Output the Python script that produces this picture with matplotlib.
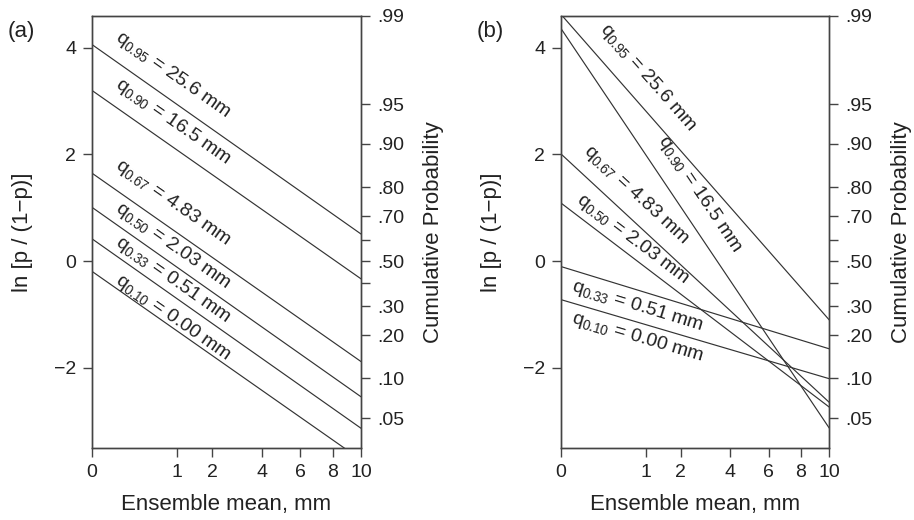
import numpy as np
import matplotlib
matplotlib.use("Agg")
import matplotlib.pyplot as plt

# -----------------------------------------------------------------------------
# Extended logistic regression: logit of cumulative probability for several
# precipitation quantiles, as a function of sqrt(ensemble mean).
# Each line is given by its logit value at 0 mm and at 10 mm.
# -----------------------------------------------------------------------------
QUANTILES = ["0.95", "0.90", "0.67", "0.50", "0.33", "0.10"]
AMOUNTS_MM = ["25.6", "16.5", "4.83", "2.03", "0.51", "0.00"]

X_ENDS = [0.0, 10.0]

# panel (a)
LOGIT_A_0 = [4.06, 3.20, 1.65, 1.01, 0.42, -0.19]
LOGIT_A_10 = [0.51, -0.33, -1.88, -2.54, -3.13, -3.72]

# panel (b)
LOGIT_B_0 = [4.625, 4.36, 2.01, 1.09, -0.10, -0.72]
LOGIT_B_10 = [-1.095, -3.12, -2.64, -2.73, -1.64, -2.20]

X_TICKS = [0, 1, 2, 4, 6, 8, 10]
Y_TICKS = [-2, 0, 2, 4]
PROB_TICKS = [0.05, 0.10, 0.20, 0.30, 0.40, 0.50, 0.60, 0.70, 0.80, 0.90, 0.95, 0.99]
PROB_LABELS = [".05", ".10", ".20", ".30", "", ".50", "", ".70", ".80", ".90", ".95", ".99"]

# label anchor points (ensemble mean in mm, logit)
LABEL_POS_A = [(0.07, 4.16), (0.07, 3.29), (0.07, 1.76), (0.07, 0.95), (0.07, 0.33), (0.07, -0.39)]
LABEL_POS_B = [(0.21, 4.36), (1.32, 2.27), (0.066, 2.05), (0.029, 1.125), (0.0145, -0.547), (0.0142, -1.144)]

# -----------------------------------------------------------------------------
plt.rcParams["font.family"] = ["Liberation Sans", "DejaVu Sans"]
plt.rcParams["mathtext.fontset"] = "custom"
plt.rcParams["mathtext.rm"] = "Liberation Sans"
plt.rcParams["mathtext.it"] = "Liberation Sans:italic"

TEXT = "#222222"
LINE = "#333333"
SPINE = "#444444"
YLIM = (-3.5, np.log(0.99 / 0.01))


def logit(p):
    return np.log(p / (1.0 - p))


def style_axis(ax):
    ax.set_xscale("function", functions=(np.sqrt, np.square))
    ax.set_xlim(0, 10)
    ax.set_ylim(*YLIM)
    ax.set_xticks(X_TICKS)
    ax.set_xticklabels([str(t) for t in X_TICKS])
    ax.set_yticks(Y_TICKS)
    ax.set_yticklabels(["\u22122", "0", "2", "4"])
    ax.tick_params(direction="out", length=6.5, width=1.0, color=SPINE,
                   labelsize=14, labelcolor=TEXT, pad=5)
    ax.minorticks_off()
    for s in ax.spines.values():
        s.set_color(SPINE)
        s.set_linewidth(1.0)
    ax.set_xlabel("Ensemble mean, mm", fontsize=16, color=TEXT)
    ax.set_ylabel("ln [p / (1\u2212p)]", fontsize=16, color=TEXT)
    ax.xaxis.set_label_coords(0.5, -0.106)
    ax.yaxis.set_label_coords(-0.219, 0.5)

    rax = ax.twinx()
    rax.set_ylim(*YLIM)
    rax.set_yticks([logit(p) for p in PROB_TICKS])
    rax.set_yticklabels(PROB_LABELS)
    rax.tick_params(direction="out", length=6.5, width=1.0, color=SPINE,
                    labelsize=14, labelcolor=TEXT, pad=5)
    for s in rax.spines.values():
        s.set_color(SPINE)
        s.set_linewidth(1.0)
    rax.set_ylabel("Cumulative Probability", fontsize=16, color=TEXT)
    rax.yaxis.set_label_coords(1.2305, 0.5)
    return rax


def draw_panel(ax, y0, y10, label_pos):
    for q, amt, a, b, (lx, ly) in zip(QUANTILES, AMOUNTS_MM, y0, y10, label_pos):
        ax.plot(X_ENDS, [a, b], color=LINE, lw=0.85, clip_on=True)
        # screen angle of the line for the rotated label
        p0, p1 = ax.transData.transform([(X_ENDS[0], a), (X_ENDS[1], b)])
        angle = np.degrees(np.arctan2(p1[1] - p0[1], p1[0] - p0[0]))
        ax.text(lx, ly, r"$\mathregular{q_{" + q + r"}}$ = " + amt + " mm",
                rotation=angle, rotation_mode="anchor", ha="left", va="baseline",
                fontsize=14, color=TEXT)


fig = plt.figure(figsize=(9.14, 5.20), dpi=100)
ax_a = fig.add_axes([92 / 914, 72 / 520, 269 / 914, 432 / 520])
ax_b = fig.add_axes([561 / 914, 72 / 520, 268 / 914, 432 / 520])

for ax, y0, y10, pos in ((ax_a, LOGIT_A_0, LOGIT_A_10, LABEL_POS_A),
                         (ax_b, LOGIT_B_0, LOGIT_B_10, LABEL_POS_B)):
    style_axis(ax)
    draw_panel(ax, y0, y10, pos)

fig.text(8 / 914, 1 - 32 / 520, "(a)", fontsize=16, color=TEXT, va="center", ha="left")
fig.text(477 / 914, 1 - 32 / 520, "(b)", fontsize=16, color=TEXT, va="center", ha="left")

fig.savefig("out.png", dpi=100, facecolor="white")
